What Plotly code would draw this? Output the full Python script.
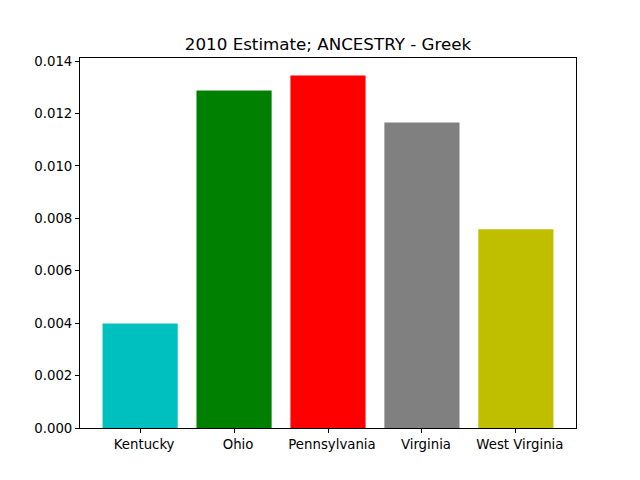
import plotly.graph_objects as go

states = ["Kentucky", "Ohio", "Pennsylvania", "Virginia", "West Virginia"]
values = [0.00399, 0.012876, 0.013448, 0.011657, 0.007581]
colors = ["#00bfbf", "#008000", "#ff0000", "#808080", "#bfbf00"]
yticks = [0.000, 0.002, 0.004, 0.006, 0.008, 0.010, 0.012, 0.014]

xpos = list(range(len(states)))
fig = go.Figure(go.Bar(x=xpos, y=values, marker=dict(color=colors, line=dict(width=0)), width=0.8))

fig.update_layout(
    width=640, height=480,
    paper_bgcolor="white", plot_bgcolor="white",
    margin=dict(l=72, r=72, t=50, b=60),
    font=dict(family="DejaVu Sans", size=13.3, color="black"),
    title=dict(text="2010 Estimate; ANCESTRY - Greek", x=(72 + 248) / 640, xanchor="center",
               y=1 - 36 / 480, yanchor="middle", font=dict(size=16.7)),
    showlegend=False,
)
fig.update_xaxes(range=[-0.64, 4.64], tickvals=xpos, ticktext=states, ticklabelshift=4,
                 showgrid=False, zeroline=False, showline=True, linecolor="black", linewidth=1,
                 mirror=True, ticks="outside", ticklen=4, tickcolor="black")
fig.update_yaxes(range=[0, max(values) * 1.05], tickvals=yticks,
                 ticktext=[f"{v:.3f}" for v in yticks],
                 showgrid=False, zeroline=False, showline=True, linecolor="black", linewidth=1,
                 mirror=True, ticks="outside", ticklen=4, tickcolor="black")

fig.write_html("out.html")
